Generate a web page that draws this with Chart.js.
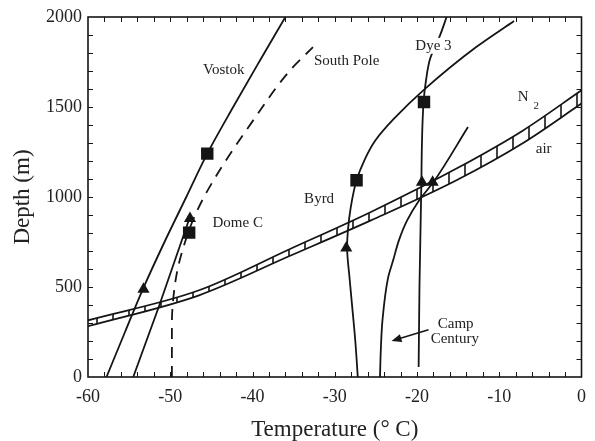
<!DOCTYPE html>
<html>
<head>
<meta charset="utf-8">
<script src="https://cdn.jsdelivr.net/npm/chart.js@4.4.0/dist/chart.umd.min.js"></script>
<style>
  html, body { margin: 0; padding: 0; background: #fff; }
  #wrap { width: 595px; height: 441px; }
</style>
</head>
<body>
<div id="wrap"><canvas id="chart" width="595" height="441"></canvas></div>
<script>
// =====================
// DATA
// =====================
const vostokT = [-57.75, -55.5, -53.3, -50.7, -48.05, -45.5, -42.35, -39.2, -36.0];
const vostokDepth = [0, 250, 491, 750, 1000, 1241, 1500, 1750, 2000];

const domeCT = [-54.5, -51.4, -47.6];
const domeCDepth = [0, 389, 890];

const southPoleT = [-49.8, -49.8, -49.6, -49.1, -48.2, -46.9, -44.5, -39.7, -35.5, -32.65];
const southPoleDepth = [0, 300, 450, 600, 750, 908, 1111, 1440, 1700, 1833];

const byrdT = [-27.2, -27.5, -27.8, -28.2, -28.5, -28.4, -28.05, -27.35, -26.4, -25.05, -22.8, -19.0, -12.8, -8.2];
const byrdDepth = [0, 200, 352, 550, 722, 815, 944, 1093, 1204, 1315, 1435, 1602, 1833, 1978];

const campT = [-24.5, -24.4, -24.2, -23.5, -22.9, -22.2, -21.2, -19.75, -18.0, -13.8];
const campDepth = [0, 150, 315, 555, 648, 759, 870, 981, 1083, 1389];

const dye3T = [-19.8, -19.7, -19.5, -19.2, -18.9, -18.4, -17.2, -16.4];
const dye3Depth = [56, 500, 1000, 1528, 1650, 1769, 1898, 2000];

const bandT = [-60, -46.5, -35.5, -25.6, -15.2, -7.1, 0];
const n2Depth = [315, 482, 710, 917, 1158, 1370, 1593];
const airDepth = [282, 454, 672, 870, 1093, 1300, 1519];

// close-off markers
const triangleT = [-53.25, -47.6, -28.6, -19.4, -18.1];
const triangleDepth = [487, 880, 717, 1082, 1082];
const squareT = [-45.5, -47.7, -27.35, -19.15];
const squareDepth = [1241, 802, 1093, 1528];

const xTicks = [-60, -50, -40, -30, -20, -10, 0];
const yTicks = [0, 500, 1000, 1500, 2000];

// text labels on the plot
const labels = [
  { text: "Vostok", x: -43.5, y: 1704 },
  { text: "South Pole", x: -28.55, y: 1756 },
  { text: "Dye 3", x: -18.0, y: 1840, box: true },
  { text: "air", x: -4.6, y: 1265 },
  { text: "Byrd", x: -31.9, y: 987 },
  { text: "Dome C", x: -41.8, y: 854 },
  { text: "Camp", x: -15.3, y: 293 },
  { text: "Century", x: -15.4, y: 209 }
];

// =====================
// HELPERS
// =====================
const serif = "'Liberation Serif', 'DejaVu Serif', serif";
const ink = "#151515";

function pts(xs, ys) {
  return xs.map((x, i) => ({ x: x, y: ys[i] }));
}

function hatchPattern() {
  const c = document.createElement("canvas");
  c.width = 16; c.height = 16;
  const g = c.getContext("2d");
  g.strokeStyle = ink;
  g.lineWidth = 1.6;
  g.beginPath(); g.moveTo(1, 0); g.lineTo(1, 16); g.stroke();
  return g.createPattern(c, "repeat");
}

// profiles are functions of depth -> interpolate along y
function profile(data, extra) {
  return Object.assign({
    data: data, indexAxis: "y", borderColor: ink, borderWidth: 1.8,
    pointRadius: 0, cubicInterpolationMode: "monotone", fill: false
  }, extra || {});
}

// frame + inward ticks on all four sides
const frameTicks = {
  id: "frameTicks",
  afterDatasetsDraw(chart) {
    const { ctx, chartArea: a, scales: { x, y } } = chart;
    ctx.save();
    ctx.strokeStyle = ink;
    ctx.lineWidth = 1;
    ctx.beginPath();
    for (let t = -58; t < 0; t += 2) {
      const px = Math.round(x.getPixelForValue(t)) + 0.5;
      ctx.moveTo(px, a.bottom); ctx.lineTo(px, a.bottom - 5);
      ctx.moveTo(px, a.top); ctx.lineTo(px, a.top + 5);
    }
    for (let d = 100; d < 2000; d += 100) {
      const py = Math.round(y.getPixelForValue(d)) + 0.5;
      ctx.moveTo(a.left, py); ctx.lineTo(a.left + 5, py);
      ctx.moveTo(a.right, py); ctx.lineTo(a.right - 5, py);
    }
    ctx.stroke();
    ctx.lineWidth = 1.6;
    ctx.strokeRect(a.left, a.top, a.right - a.left, a.bottom - a.top);
    ctx.restore();
  }
};

// text labels, N2 with subscript, Camp Century arrow
const plotText = {
  id: "plotText",
  afterDatasetsDraw(chart) {
    const { ctx, scales: { x, y } } = chart;
    ctx.save();
    ctx.fillStyle = "#222";
    ctx.font = "15px " + serif;
    ctx.textAlign = "center";
    ctx.textBaseline = "middle";
    labels.forEach(l => {
      const px = x.getPixelForValue(l.x), py = y.getPixelForValue(l.y);
      if (l.box) {
        const w = ctx.measureText(l.text).width;
        ctx.fillStyle = "#fff";
        ctx.fillRect(px - w / 2 - 2, py - 8, w + 4, 16);
        ctx.fillStyle = "#222";
      }
      ctx.fillText(l.text, px, py);
    });
    // N2
    ctx.fillText("N", x.getPixelForValue(-7.1), y.getPixelForValue(1556));
    ctx.font = "11px " + serif;
    ctx.fillText("2", x.getPixelForValue(-5.5), y.getPixelForValue(1505));

    // arrow to Camp Century curve
    const x0 = x.getPixelForValue(-18.6), y0 = y.getPixelForValue(263);
    const x1 = x.getPixelForValue(-23.1), y1 = y.getPixelForValue(200);
    const ang = Math.atan2(y1 - y0, x1 - x0);
    ctx.strokeStyle = ink; ctx.fillStyle = ink; ctx.lineWidth = 1.5;
    ctx.beginPath(); ctx.moveTo(x0, y0); ctx.lineTo(x1 - 6 * Math.cos(ang), y1 - 6 * Math.sin(ang)); ctx.stroke();
    ctx.beginPath();
    ctx.moveTo(x1, y1);
    ctx.lineTo(x1 - 10 * Math.cos(ang) + 4 * Math.sin(ang), y1 - 10 * Math.sin(ang) - 4 * Math.cos(ang));
    ctx.lineTo(x1 - 10 * Math.cos(ang) - 4 * Math.sin(ang), y1 - 10 * Math.sin(ang) + 4 * Math.cos(ang));
    ctx.closePath(); ctx.fill();
    ctx.restore();
  }
};

// =====================
// CHART
// =====================
const ctx = document.getElementById("chart").getContext("2d");

new Chart(ctx, {
  type: "line",
  data: {
    datasets: [
      { label: "N2", data: pts(bandT, n2Depth), borderColor: ink, borderWidth: 1.8, pointRadius: 0,
        cubicInterpolationMode: "monotone", fill: false },
      { label: "air", data: pts(bandT, airDepth), borderColor: ink, borderWidth: 1.8, pointRadius: 0,
        cubicInterpolationMode: "monotone", fill: "-1", backgroundColor: hatchPattern() },
      profile(pts(vostokT, vostokDepth), { label: "Vostok" }),
      profile(pts(domeCT, domeCDepth), { label: "Dome C", cubicInterpolationMode: "default", tension: 0 }),
      profile(pts(southPoleT, southPoleDepth), { label: "South Pole", borderDash: [11, 8] }),
      profile(pts(byrdT, byrdDepth), { label: "Byrd" }),
      profile(pts(campT, campDepth), { label: "Camp Century" }),
      profile(pts(dye3T, dye3Depth), { label: "Dye 3" }),
      { label: "triangles", data: pts(triangleT, triangleDepth), pointStyle: "triangle", pointRadius: 7,
        backgroundColor: ink, borderColor: ink, borderWidth: 0, showLine: false },
      { label: "squares", data: pts(squareT, squareDepth), pointStyle: "rect", pointRadius: 8.8,
        backgroundColor: ink, borderColor: ink, borderWidth: 0, showLine: false }
    ]
  },
  options: {
    responsive: false,
    animation: false,
    layout: { padding: { top: 17, right: 9, left: 0, bottom: 0 } },
    plugins: { legend: { display: false }, tooltip: { enabled: false } },
    scales: {
      x: {
        type: "linear", min: -60, max: 0,
        afterBuildTicks: s => { s.ticks = xTicks.map(v => ({ value: v })); },
        ticks: { font: { family: serif, size: 18 }, color: "#222", padding: 9, maxRotation: 0,
                 callback: v => String(v) },
        grid: { display: false, drawTicks: false },
        border: { display: false },
        title: { display: true, text: "Temperature (\u00B0 C)", color: "#222",
                 font: { family: serif, size: 23 }, padding: { top: 0, bottom: -3 } },
        afterFit: s => { s.height = 64; }
      },
      y: {
        type: "linear", min: 0, max: 2000,
        afterBuildTicks: s => { s.ticks = yTicks.map(v => ({ value: v })); },
        ticks: { font: { family: serif, size: 18 }, color: "#222", padding: 6,
                 callback: v => String(v) },
        grid: { display: false, drawTicks: false },
        border: { display: false },
        title: { display: true, text: "Depth (m)", color: "#222",
                 font: { family: serif, size: 23 }, padding: { top: 9, bottom: 0 } },
        afterFit: s => { s.width = 88; }
      }
    }
  },
  plugins: [frameTicks, plotText]
});
</script>
</body>
</html>
